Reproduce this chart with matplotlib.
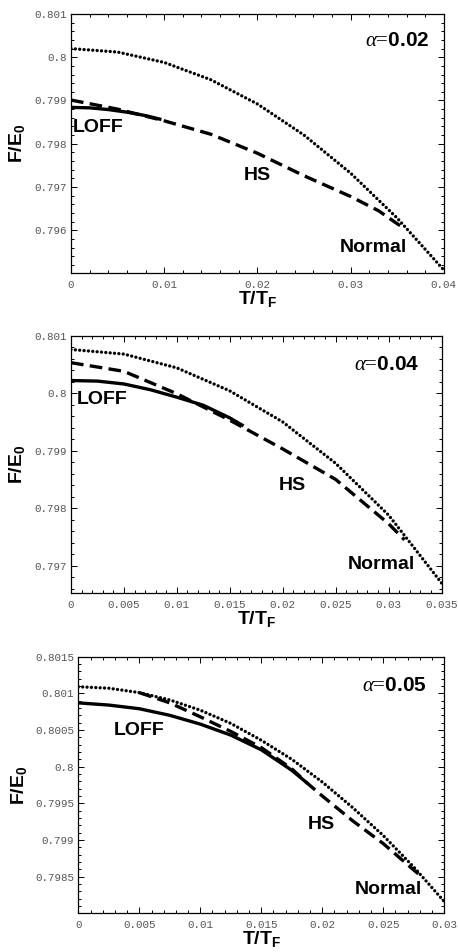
import numpy as np
import matplotlib
matplotlib.use("Agg")
import matplotlib.pyplot as plt
from matplotlib.ticker import FixedLocator, AutoMinorLocator

plt.rcParams['mathtext.fontset'] = 'custom'
plt.rcParams['mathtext.rm'] = 'Liberation Serif'
plt.rcParams['mathtext.it'] = 'Liberation Serif:italic'
plt.rcParams['mathtext.bf'] = 'Liberation Sans:bold'

# ---- panel 1, alpha = 0.02 ----
t1_normal = [0, 0.005, 0.01, 0.015, 0.02, 0.025, 0.03, 0.035, 0.04]
f1_normal = [0.8002, 0.80012, 0.79988, 0.79948, 0.79892, 0.79820, 0.79732, 0.79628, 0.79508]
t1_hs = [0, 0.005, 0.01, 0.015, 0.02, 0.025, 0.03, 0.033, 0.035, 0.0355]
f1_hs = [0.79901, 0.79880, 0.79853, 0.79822, 0.79778, 0.79726, 0.79678, 0.79645, 0.79615, 0.79608]
t1_loff = [0, 0.002, 0.004, 0.006, 0.008, 0.0097]
f1_loff = [0.79884, 0.79883, 0.79879, 0.79873, 0.79865, 0.79856]

# ---- panel 2, alpha = 0.04 ----
t2_normal = [0, 0.005, 0.01, 0.015, 0.02, 0.025, 0.03, 0.035]
f2_normal = [0.80076, 0.80068, 0.80044, 0.80004, 0.79950, 0.79878, 0.79788, 0.79670]
t2_hs = [0, 0.005, 0.01, 0.015, 0.02, 0.025, 0.03, 0.0315]
f2_hs = [0.80053, 0.80038, 0.79999, 0.79953, 0.79903, 0.79850, 0.79773, 0.79745]
t2_loff = [0, 0.0025, 0.005, 0.0075, 0.01, 0.0125, 0.015, 0.0163]
f2_loff = [0.80022, 0.80021, 0.80016, 0.80006, 0.79993, 0.79979, 0.79957, 0.79943]

# ---- panel 3, alpha = 0.05 ----
t3_normal = [0, 0.0025, 0.005, 0.0075, 0.01, 0.0125, 0.015, 0.0175, 0.02, 0.0225, 0.025, 0.0275, 0.03]
f3_normal = [0.80109, 0.80107, 0.80101, 0.80091, 0.80077, 0.80059, 0.80036, 0.80010, 0.79979,
             0.79944, 0.79906, 0.79863, 0.79816]
t3_hs = [0.005, 0.0075, 0.01, 0.0125, 0.015, 0.0175, 0.0188, 0.02, 0.0225, 0.025, 0.0275, 0.028]
f3_hs = [0.80101, 0.80087, 0.80068, 0.80048, 0.80026, 0.79997, 0.79977, 0.79960, 0.79926, 0.79895, 0.79859, 0.79852]
t3_loff = [0, 0.0025, 0.005, 0.0075, 0.01, 0.0125, 0.015, 0.0175, 0.0188]
f3_loff = [0.80087, 0.80084, 0.80079, 0.80070, 0.80058, 0.80043, 0.80023, 0.79995, 0.79977]

alphas = ['0.02', '0.04', '0.05']
xlims = [(0, 0.04), (0, 0.035), (0, 0.03)]
ylims = [(0.79501, 0.801), (0.79652, 0.801), (0.7980, 0.8015)]
xticks = [[0, 0.01, 0.02, 0.03, 0.04],
          [0, 0.005, 0.01, 0.015, 0.02, 0.025, 0.03, 0.035],
          [0, 0.005, 0.01, 0.015, 0.02, 0.025, 0.03]]
xticklabels = [['0', '0.01', '0.02', '0.03', '0.04'],
               ['0', '0.005', '0.01', '0.015', '0.02', '0.025', '0.03', '0.035'],
               ['0', '0.005', '0.01', '0.015', '0.02', '0.025', '0.03']]
yticks = [[0.796, 0.797, 0.798, 0.799, 0.8, 0.801],
          [0.797, 0.798, 0.799, 0.8, 0.801],
          [0.7985, 0.799, 0.7995, 0.8, 0.8005, 0.801, 0.8015]]
yticklabels = [['0.796', '0.797', '0.798', '0.799', '0.8', '0.801'],
               ['0.797', '0.798', '0.799', '0.8', '0.801'],
               ['0.7985', '0.799', '0.7995', '0.8', '0.8005', '0.801', '0.8015']]

curves = [(t1_normal, f1_normal, t1_hs, f1_hs, t1_loff, f1_loff),
          (t2_normal, f2_normal, t2_hs, f2_hs, t2_loff, f2_loff),
          (t3_normal, f3_normal, t3_hs, f3_hs, t3_loff, f3_loff)]

# axes boxes [left, bottom, width, height] in figure fractions
boxes = [[0.155, 0.7132, 0.814, 0.2721],
         [0.155, 0.3768, 0.809, 0.2706],
         [0.171, 0.0407, 0.799, 0.2695]]

# label positions in axes fractions
loff_pos = [(0.005, 0.56), (0.016, 0.753), (0.096, 0.714)]
hs_pos = [(0.464, 0.375), (0.562, 0.42), (0.628, 0.344)]
normal_pos = [(0.721, 0.097), (0.746, 0.110), (0.756, 0.091)]
alpha_pos = [(0.962, 0.892), (0.941, 0.886), (0.952, 0.883)]
ylab_x = [-0.118, -0.118, -0.135]

fig = plt.figure(figsize=(4.58, 9.52), dpi=100)

for i in range(3):
    ax = fig.add_axes(boxes[i])
    tn, fn, th, fh, tl, fl = curves[i]
    ax.plot(tl, fl, color='black', lw=2.4, solid_capstyle='butt')
    ax.plot(th, fh, color='black', lw=2.4, dashes=(3.8, 1.9), dash_capstyle='butt')
    ax.plot(tn, fn, color='black', lw=2.4, dashes=(0.01, 1.3), dash_capstyle='round')

    ax.set_xlim(*xlims[i])
    ax.set_ylim(*ylims[i])
    ax.xaxis.set_major_locator(FixedLocator(xticks[i]))
    ax.yaxis.set_major_locator(FixedLocator(yticks[i]))
    ax.set_xticklabels(xticklabels[i])
    ax.set_yticklabels(yticklabels[i])
    ax.xaxis.set_minor_locator(AutoMinorLocator(5))
    ax.yaxis.set_minor_locator(AutoMinorLocator(5))
    ax.tick_params(which='both', direction='in', top=True, right=True, width=0.7,
                   colors='black', labelcolor='#555555')
    ax.tick_params(which='major', length=4.5)
    ax.tick_params(which='minor', length=2.5)
    ax.tick_params(axis='x', which='major', pad=5)
    ax.tick_params(axis='y', which='major', pad=3)
    for lab in ax.get_xticklabels() + ax.get_yticklabels():
        lab.set_family('Liberation Mono')
        lab.set_fontsize(7.8)
    for sp in ax.spines.values():
        sp.set_linewidth(0.9)

    ax.set_xlabel(r'$\mathbf{T/T_F}$', fontsize=14)
    ax.set_ylabel(r'$\mathbf{F/E_0}$', fontsize=14)
    ax.xaxis.set_label_coords(0.5, -0.062)
    ax.yaxis.set_label_coords(ylab_x[i], 0.5)

    ax.text(*loff_pos[i], 'LOFF', transform=ax.transAxes, ha='left', va='center',
            family='Liberation Sans', fontweight='bold', fontsize=14)
    ax.text(*hs_pos[i], 'HS', transform=ax.transAxes, ha='left', va='center',
            family='Liberation Sans', fontweight='bold', fontsize=14)
    ax.text(*normal_pos[i], 'Normal', transform=ax.transAxes, ha='left', va='center',
            family='Liberation Sans', fontweight='bold', fontsize=14)
    ax.text(*alpha_pos[i], r'$\alpha$=$\mathbf{' + alphas[i] + '}$', transform=ax.transAxes,
            ha='right', va='center', family='Liberation Serif', fontsize=15)

fig.savefig('out.png', dpi=100)
